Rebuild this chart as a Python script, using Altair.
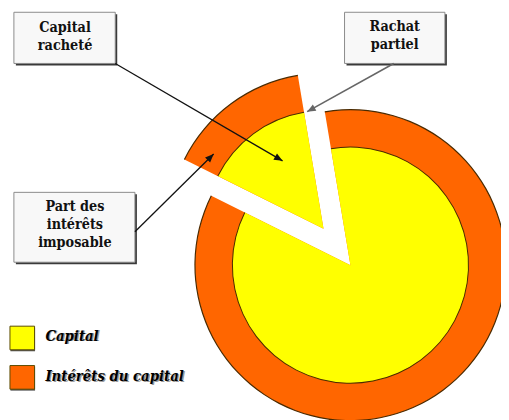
import math
import altair as alt
import pandas as pd

# ---------------- data ----------------
segments = ["Capital racheté", "Capital conservé"]
shares = [15, 85]
ring_names = ["Intérêts du capital", "Capital"]
ring_colors = ["#ff6600", "#ffff00"]
legend_labels = ["Capital", "Intérêts du capital"]
legend_colors = ["#ffff00", "#ff6600"]
box_texts = [["Capital", "racheté"], ["Rachat", "partiel"], ["Part des", "intérêts", "imposable"]]

# ---------------- layout ----------------
W, H = 501, 412
CX, CY = 356, 266
R_OUT, R_IN = 158, 120
START_DEG = 296.5
EXPLODE = 46
OUTLINE = "#4a2a00"
FONT = "DejaVu Serif Condensed"
BOX_SIZE = 14.5

xs = alt.Scale(domain=[8, 8 + W], nice=False, zero=False)
ys = alt.Scale(domain=[8 + H, 8], nice=False, zero=False)
X = lambda f="x": alt.X(f"{f}:Q", scale=xs, axis=None)
Y = lambda f="y": alt.Y(f"{f}:Q", scale=ys, axis=None)

# pie rows
rows = []
cum = 0
total = sum(shares)
for i, (seg, v) in enumerate(zip(segments, shares)):
    mid = math.radians(START_DEG + (cum + v / 2) / total * 360)
    off = EXPLODE if i == 0 else 0
    rows.append(dict(segment=seg, start=cum, end=cum + v,
                     x=CX + off * math.sin(mid), y=CY - off * math.cos(mid)))
    cum += v
pie = pd.DataFrame(rows)
theta_scale = alt.Scale(domain=[0, total],
                        range=[math.radians(START_DEG), math.radians(START_DEG + 360)])


def arc_layer(r_out, r_in, color):
    return alt.Chart(pie).mark_arc(radius=r_out, radius2=r_in, color=color, stroke=None).encode(
        x=X(), y=Y(),
        theta=alt.Theta("start:Q", scale=theta_scale),
        theta2="end:Q",
    )


pie_layers = [
    arc_layer(R_OUT, 0, ring_colors[0]),
    arc_layer(R_IN, 0, ring_colors[1]),
    arc_layer(R_OUT + 0.6, R_OUT - 0.6, OUTLINE),
    arc_layer(R_IN + 0.5, R_IN - 0.5, OUTLINE),
]

# boxes
boxes_pos = [(14, 9, 117, 61), (350, 9, 452, 61), (14, 192, 137, 263)]
text_base = [(66, 29, 18), (401, 28, 18), (76, 211, 18.5)]
bx = pd.DataFrame([dict(x=a, y=b, x2=c, y2=d) for a, b, c, d in boxes_pos])
bxs = bx.copy()
bxs[["x", "x2"]] += 2
bxs[["y", "y2"]] += 2
shadow = alt.Chart(bxs).mark_rect(color="#3a3a3a").encode(x=X(), x2="x2:Q", y=Y(), y2="y2:Q")
box = alt.Chart(bx).mark_rect(fill="#f8f8f8", stroke="#8a8a8a", strokeWidth=1).encode(
    x=X(), x2="x2:Q", y=Y(), y2="y2:Q")

trows = []
for lines, (tx, ty, dy) in zip(box_texts, text_base):
    for k, t in enumerate(lines):
        trows.append(dict(x=tx, y=ty + k * dy, t=t))
btext = alt.Chart(pd.DataFrame(trows)).mark_text(
    font=FONT, fontSize=BOX_SIZE, fontWeight="bold", color="#111", align="center", baseline="alphabetic"
).encode(x=X(), y=Y(), text="t:N")

# connectors
conns = [((117, 61), (287, 160), "#111", 1.3),
         ((400, 61), (312, 110), "#666", 1.6),
         ((137, 232), (217, 153), "#111", 1.3)]
crow = []
for (x1, y1), (x2, y2), col, sw in conns:
    ang = math.degrees(math.atan2(x2 - x1, -(y2 - y1))) % 360
    crow.append(dict(x=x1, y=y1, x2=x2, y2=y2, col=col, sw=sw, ang=ang))
cdf = pd.DataFrame(crow)
rules = alt.Chart(cdf).mark_rule().encode(
    x=X(), y=Y(), x2="x2:Q", y2="y2:Q",
    color=alt.Color("col:N", scale=None),
    strokeWidth=alt.StrokeWidth("sw:Q", scale=None),
)
heads = alt.Chart(cdf).mark_point(
    shape="M0,0L0.42,1L-0.42,1Z", filled=True, opacity=1, size=300
).encode(
    x=X("x2"), y=Y("y2"),
    color=alt.Color("col:N", scale=None),
    angle=alt.Angle("ang:Q", scale=None),
)

# legend
lrows = []
for i, (lab, col) in enumerate(zip(legend_labels, legend_colors)):
    top = 328 + i * 40
    lrows.append(dict(x=10, y=top, x2=35, y2=top + 24, col=col, tx=46, ty=top + 15 + i * 1, t=lab))
ldf = pd.DataFrame(lrows)
lsh = ldf.copy()
lsh["y"] += 1.5
lsh["y2"] += 1.5
lsh["x"] += 0.5
lsh["x2"] += 0.5
lshadow = alt.Chart(lsh).mark_rect(color="#555").encode(x=X(), x2="x2:Q", y=Y(), y2="y2:Q")
lsq = alt.Chart(ldf).mark_rect(stroke="#5a4a00", strokeWidth=1).encode(
    x=X(), x2="x2:Q", y=Y(), y2="y2:Q", color=alt.Color("col:N", scale=None))
ltxt_sh = alt.Chart(lsh).mark_text(
    font=FONT, fontSize=15, fontWeight="bold", fontStyle="italic", color="#9a9a9a",
    align="left", baseline="alphabetic", dx=1.5, dy=0.5
).encode(x=X("tx"), y=Y("ty"), text="t:N")
ltxt = alt.Chart(ldf).mark_text(
    font=FONT, fontSize=15, fontWeight="bold", fontStyle="italic", color="#000",
    align="left", baseline="alphabetic"
).encode(x=X("tx"), y=Y("ty"), text="t:N")

chart = alt.layer(
    *pie_layers, shadow, box, btext, rules, heads, lshadow, lsq, ltxt_sh, ltxt
).properties(
    width=W, height=H, padding=0, autosize=alt.AutoSizeParams(type="none")
).configure_view(stroke=None)

chart.save("out.html", embed_options={"renderer": "svg", "actions": False})
